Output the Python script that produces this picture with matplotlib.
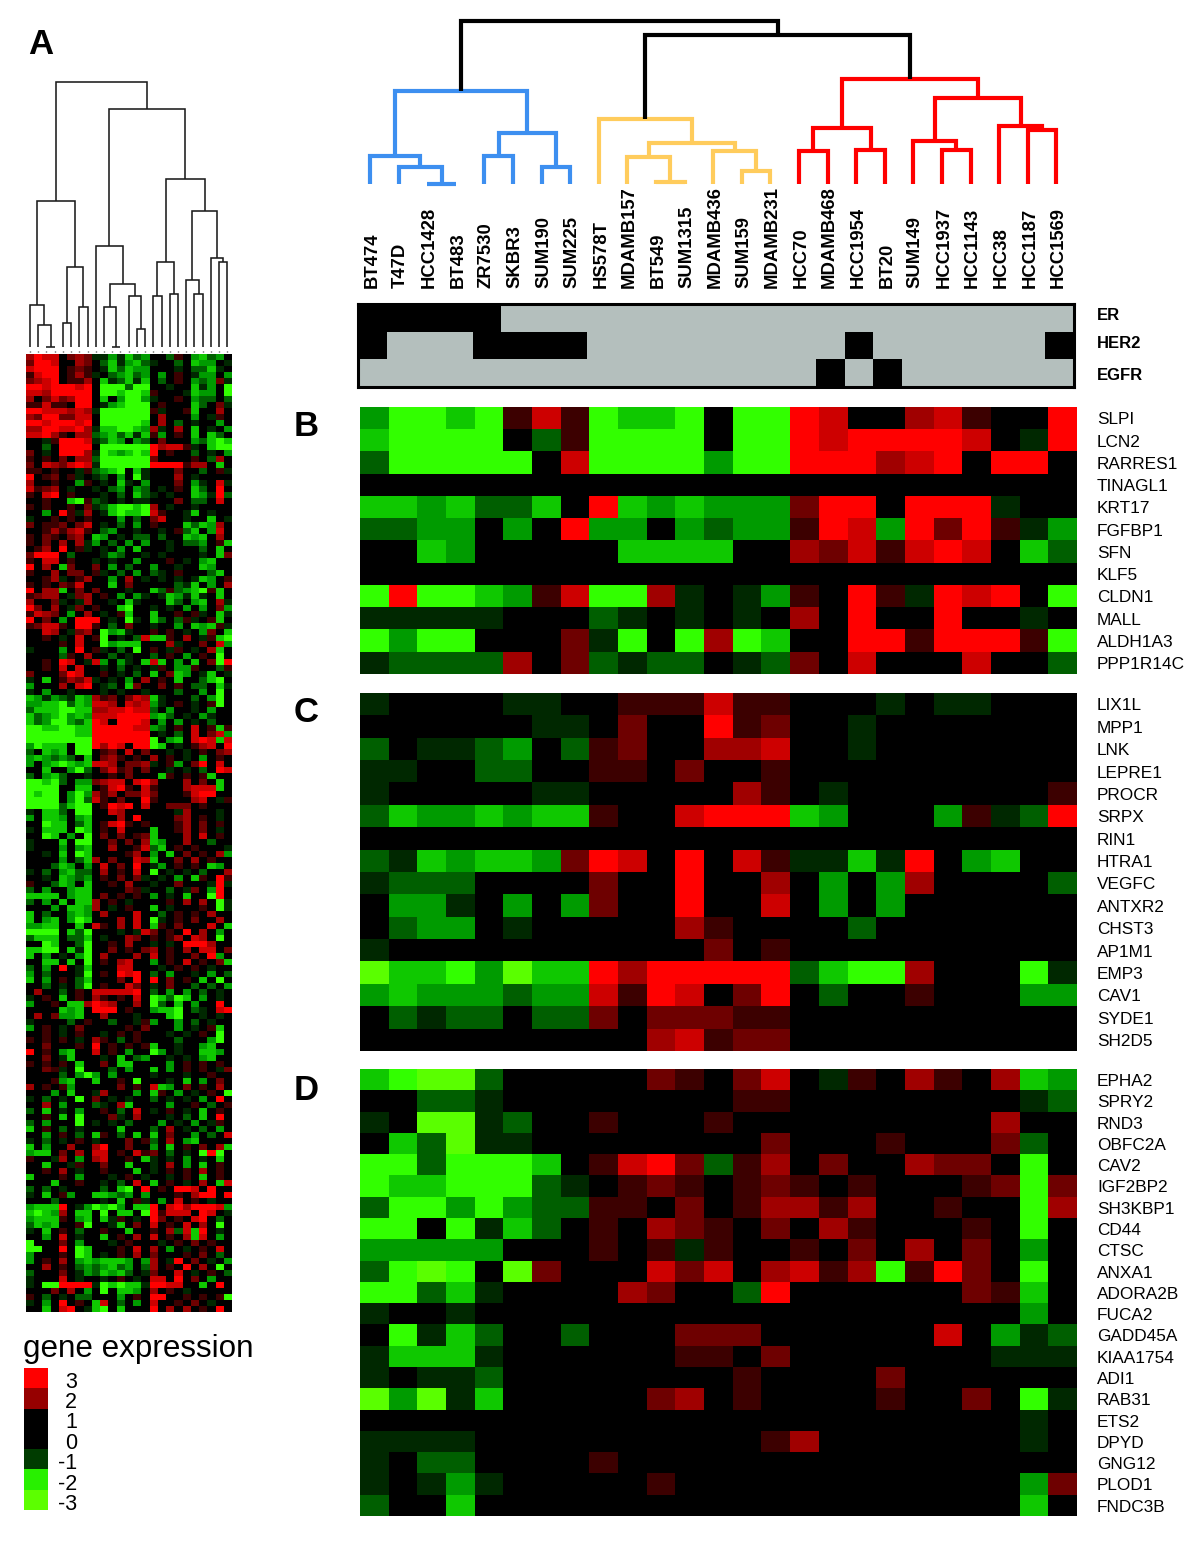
import matplotlib
matplotlib.use("Agg")
import matplotlib.pyplot as plt
import numpy as np
from matplotlib.colors import ListedColormap

plt.rcParams["font.family"] = ["Liberation Sans", "DejaVu Sans"]

W, H = 1200, 1563

cell_lines = ["BT474", "T47D", "HCC1428", "BT483", "ZR7530", "SKBR3", "SUM190", "SUM225", "HS578T",
              "MDAMB157", "BT549", "SUM1315", "MDAMB436", "SUM159", "MDAMB231", "HCC70", "MDAMB468",
              "HCC1954", "BT20", "SUM149", "HCC1937", "HCC1143", "HCC38", "HCC1187", "HCC1569"]

# 1 = positive, 0 = negative
markers = ["ER", "HER2", "EGFR"]
er = [1, 1, 1, 1, 1] + [0] * 20
her2 = [1, 0, 0, 0, 1, 1, 1, 1] + [0] * 9 + [1] + [0] * 6 + [1]
egfr = [0] * 16 + [1, 0, 1] + [0] * 6

# expression cells: . black, 1-5 dark to bright red, a-f dark to bright green
genes_b = ["SLPI", "LCN2", "RARRES1", "TINAGL1", "KRT17", "FGFBP1", "SFN", "KLF5", "CLDN1", "MALL",
           "ALDH1A3", "PPP1R14C"]
rows_b = ["ceede141edde.ee54..341..5",
          "deeee.b1eeee.ee5455554.a5",
          "beeeee.4eeeecee555345.55.",
          ".........................",
          "ddcdbbd.5dcdccc255.555a..",
          "bbcc.c.5cc.cbcc154c5251ac",
          "..dc.....dddd..3241454.db",
          ".........................",
          "e5eedc14ee3a.ac1.51a545.e",
          "aaaaa...ba.a.a.3.5..5..a.",
          "ecee...2ae.e3ed..5515551e",
          "abbbb3.2babb.ab2.4...4..b"]

genes_c = ["LIX1L", "MPP1", "LNK", "LEPRE1", "PROCR", "SRPX", "RIN1", "HTRA1", "VEGFC", "ANTXR2", "CHST3",
           "AP1M1", "EMP3", "CAV1", "SYDE1", "SH2D5"]
rows_c = ["a....aa..111411...a.aa...",
          "......aa.2..512..a.......",
          "b.aabc.b12..334..a.......",
          "aa..bb..11.2..1..........",
          "a.....aa.....31.a.......1",
          "bdccdcdd1..4555dc...c1ab5",
          ".........................",
          "badcddc254.5.41aada5.cd..",
          "abbb....2..5..3.c.c3....b",
          ".cca.c.c2..5..4.c.c......",
          ".bcc.a.....31....b.......",
          "a...........2.1..........",
          "fddecfdd5355555bdee3...ea",
          "cdcccbcc4154.25.b..1...cc",
          ".babb.bb2.22211..........",
          "..........34122.........."]

genes_d = ["EPHA2", "SPRY2", "RND3", "OBFC2A", "CAV2", "IGF2BP2", "SH3KBP1", "CD44", "CTSC", "ANXA1", "ADORA2B",
           "FUCA2", "GADD45A", "KIAA1754", "ADI1", "RAB31", "ETS2", "DPYD", "GNG12", "PLOD1", "FNDC3B"]
rows_d = ["deffb.....21.24.a1.31.3dc",
          "..bba........11........ab",
          "a.ffab..1...1.........3..",
          ".dbfaa........2...1...2b.",
          "eebeeed.1452b13.2..322.e.",
          "eddeeeba.121.121.1...12e2",
          "beececbb11.2.13313..1..e3",
          "ee.eadb.1.321.2.31...1.e.",
          "ccccc...1.1a1..1.2.3.2.c.",
          "befe.f2...424.3413e152.e.",
          "eebda....32..b5......21d.",
          "a..a...................c.",
          ".eadb..b...222......4.cab",
          "addda......11.2.......aaa",
          "a.aab........1....2......",
          "fcfad.....23.1....1..2.ea",
          ".......................a.",
          "aaaa..........13.......a.",
          "a.bb....1................",
          "a.aca.....1............c2",
          "b..d...................d."]

rows_a = ["3544.232aacadbc..b1.cdbc.", "2554..32.bdacdba..b.dcc.a", "4555.121.adbdcc...a.bbda.",
          "1455.131a.bcdbc.c.1.acc.c", "2345.113.dabdad.b.1.cbc2a", "55455545.eeebee..a..dac.e",
          "44355555.eedeed1...adcc.e", "3.242355.d.ceeca..1.cbb.b", "11411.55.acdeee.1...db.2a",
          "55444343aeeeeee1a..1d..3.", "32552244.eeeeee.3...c.a1.", "55455545.eeeeed.3.b.a..c.",
          "33554453addeedc3a.3.d.a.c", "44531.33bcdbdad1c.1.d.db.", "..a15554abdc.cb.2...cbded",
          "..b.5555.eeeeee53441a.dee", "2.a.5553aedcded5.1..b.a.c", "1.1.2.33beeeeee2....1.b3.",
          "2.432454aeeeeee5555133.d.", "11.1..a1bcde.da...2..b.1a", "5.12.1a.ab.c.ea...3.a....",
          "3..1..c1.a.da.c...2.ca.4a", "4123.a..a.bc.cb.a.1.db.5.", "1.45.1...a.b.dba.a..dca5b",
          "..1..de1ba.a.aa...2.bb.4.", "1.1..1.2abdeede3.a..a....", "..c.51a3.adedde41..ad.a..",
          "a..1.1.1...c.b.24..a..d.a", "2.112.24.a.b.c.1...dbdc3.", "..131341.bc..a..a.1bd.c4.",
          "1.21.23.dc.a.bb.b..dcd.3.", "1.2.3.3ac.b.c.c..a.bbc.1d", ".13.5.1a.a.c.d...a...b.d.",
          "2555.b...acb..a.a....a.d2", "1.44.1..a.a..c...1.a.cd..", "5.3.d2..2.c.b..c..a..dc..",
          "1..3.22.1a.b.c.ba.1...bd.", "..13a.13..c.3.a.a.a.adc.1", "1.1.214...d.2.....bad.c.3",
          "5.33d.2.2...a..db1bcde1d.", "1233.a23.1.c.ca.adcada.d.", "3..2a.a3..a.da...db.cd.3a",
          "52.3.a2.1..de..a.a.c.c.2c", "1432.c.3.a.1d..d..1.1a.da", "5.2.c.555.a.ea.db.b1a.1d.",
          "12441.551.b.2..a..c.dcd1a", "..43.a23.ecda..1.1.a.c2.d", "..1.a.4.1e.a.b4dd1.3.a1de",
          "....1.4..ecddd...3a..2.4c", "a...c.5.1a.b.e.1.a1.a.3d.", "....b1.3..b.a..b.1.c.1.e.",
          "..1.54.a4c.ca.d4d.c.d.2e5", "..1.4.4..a.b.a.a1.cc1..b1", "2...254..1.a.b.d.2dc.ad.a",
          # second block
          "a.d.1324a.a.c.3.1.d..bde.", "c...3.45.ab.d2..2.1.bb.da", "a.c..a...a.a..a...b..c.e.",
          "dcacbadc312.243da...b.ce.", "ccddebdc443.434ca.1.a.1e.", "bdddeedd3344544b.c..a.c..",
          "dbcdecdc4445555cdb.a.ca..", "dbceecbd54.5554.c.c.a.b..", "eeddeedd5555544cb.1.4.1d1",
          "eeeeeedd5555555.a.b.4.24c", "eeeeeeee5555555e.cd.454d4", "ceddd.ee5354.55ed.a.134.5",
          "b.dcd.ee.12.4.2..a.a.1.23", "cdcbcb.d.231.1.3.1.a.c.1.", "c.cdedcd443.223a.1c.25.4.",
          "..d..ceb.2412.2..a.a.b.54", "b.cdb..a..1.2...d1.1.1d..", "eedeb.cc2344.453...3.2.d.",
          "eeee..dd.1451.41...3444d.", "edee.cec313.2242...1455..", "eeee.ceb41.2..51....34.a1",
          "eeeebdee.1545.4..222.1...", "a.ddb.ee..43......a3...a.", "c.ddc.cd...3.5....23.1.a.",
          "..edd.bd.1451.1...13.2.1.", "a.ddd.ed.1.4...d..13.2.a.", "..ed.c.e.2.2.12d...3.4.1.",
          "a...d.ee..2.2.3dc..3..b..", "a...c.cd..3..14bd.1.1...a", "..a.d.ed....13.c.d.2.1.3c",
          "....c.bd3.2..43d..2.3.1..", "...bdc.c.4.2.5.ac.1.1.dc.", "a.b.cdbb.3.1.4.e.a.a.b..3",
          "..a.dcbc.1.2.2a.a.c.d1.51", "1..bdc.d..1.3..a..2...a5a", "b.c..cdd....21a..b.a2.c5.",
          "dddd.cdd.2.1.1.c.a.d..e5.", "b.c.d.dd3.1.a....1.3.3.ea", "...c.ddc3.a.1..d.a...1.ea",
          "d.b..cdc.3...4..b.1.1.3..", "d.cd.ced...3.4.ea.1.2..3.", "ccdd..d.41.3.4.d1.2...4.d",
          "eeee.dbe...a.a42.1.5.3.c.", "bddd.bbd.a..32.1.13.43.e.", "..ed..be..1.3..a.a.5553..",
          "ddee.dae..2.1.23.1.3.44.2", "d.c.a.ce.3...3.4.1..2.5c.", "..dd.d.e.1.34..c.1.4.1.2d",
          "b.c.5.ad...44...a.1.1.a..", "c.b...ae.1.545.b.c..a.c.b", "d.c.1.bd...2.5.5.2.1.d.e.",
          "..b.a.be.1..42.a.2..b.b.c", ".3..b.1.444445.b.c.c.b.a.", "a.1.d.1.31.1.4.edbed.c.a.",
          "c..1.dd3543..3.eb.d.c..5.",
          # third block
          "....dcd.555.1..cdde.ba.45", ".3.2ccd..3...a...de..a.a.", "a....b.1..b..a1c..c.b.a..",
          "c.1.a.2.....1.2...c.a.1d.", "..1.a.1..a.1.1...a.a.1.e.", "1.1.1.a.31.b.1....b...ce.",
          "..2...1.5.1.1.1d..a..cd..", "5.1.cd..4.1.c..ec.a..ddc.", "..2.ad...a.d.bc..a.a.cd..",
          "1.1.1.d..2.dd....c.1.1.1.", "..21a.e...b.c..d.c.1.1.a2", "....b.cec.c....a...a..1..",
          "...1cd..d..1.e...a.d.c.2.", "3.1.1c.....2.1.4dc.2.1.3.e", "...c.d..a3...c.d1.c.a.1.e",
          "a.b.a.e.2.a.a..b.a.a.c.5.", "..3.c...ba.3d....c..1.b.1", "b.d.a.c..1.b.4.a.1.a.d.1.",
          "..1.d.e...2a.3...a.b.d.5.", "b.c...e.a.a.b...c.a.c.a1.", "d.1.b.a....d...b.3.a.b.c.",
          "..c.1.b.d1.b.d.d.2..c.b.4", "a.b.a.1.a...2.1b.3.cd....", "d.c..3..35..2..c.d.1.2.3d",
          "cdd.2.3.44.1.412.b.a.e5e.", "1..a3.c.34..1.da.a.c.a.d.", "..d..a1..2..d..a.3.c.d.1.",
          "..1.3.a..1...d.a.1.1.3.1.", "d...1.c...a.1.a..a.1.d.1.3", "...d..1..a.b.4.d.1.a.3.d4",
          "b.b.a....b.de.5.1.554.5..", "a.d.1c..ddcbc.c...1.355.5", "...b.....a.d.1a.c.4.1.a..",
          "cddd5.acedec.dd5.4535554c", "dedc3.dd.e.dd.e51444.54.a", "cddd1.cd.da1.a.52.1.45.b.",
          "bdcd..1e..ad.2.4.1.4.3.e.", "a.d.1.b..1..d..1.3b4d5.a.", "..c.4.a..d.1.3.4.1.3d4.c.",
          "e...2.c...a.1...a.1.2.1..", "ee..5.ed...1.4.3.c.a.1.4.", "c...1.ed.a.1.3.2...1.2.b.",
          "c.1.3.cdcdddc.c3.a5.2.a.c", "..3.1.bcbcdbc.b3.1.5.3.e.", "b...2.acbdcdb.a2..4.a.1.b",
          "a...4.a..a.1.a.44.5.2.c..", "a.ee5555aededda5544..d.5.", "...2.3.c.e.ddc.3.1.a.....",
          "1.b.a.bb...c.1.55..1.1.1e", "a.c.5.1.d4.b.c.4..1.2.a..", "..d.45.ade.d...5.3.3.1.5."]

# dendrograms: (distance, left, right), integers are leaves
tree_a = (265, (146, (42, 0, (22, 1, (0, 2, 3))), (80, (24, 4, 5), (40, 6, 7))),
          (238, (101, 8, (63, (40, 9, (0, 10, 11)), (51, 12, (18, 13, 14)))),
           (168, (85, (51, 15, 16), (53, 17, 18)), (136, (67, 19, (53, 20, 21)), (89, 22, (85, 23, 24))))))
tree_blue = (93, (28, 0, (17, 1, (0, 2, 3))), (51, (28, 4, 5), (17, 6, 7)))
tree_yellow = (65, 8, (41, (27, 9, (2, 10, 11)), (33, 12, (13, 13, 14))))
tree_red = (105, (56, (33, 15, 16), (34, 17, 18)), (86, (43, 19, (34, 20, 21)), (58, 22, (54, 23, 24))))
root_right = 149
root_top = 163

legend_values = [3, 2, 1, 0, -1, -2, -3]
legend_colors = ["#ff0000", "#960000", "#000000", "#000000", "#003c00", "#28f000", "#5cff00"]

LEVELS = "fedcba.12345"
cell_colors = ["#5aff00", "#32ff00", "#0fc800", "#009b00", "#005f00", "#002800", "#000000",
               "#3c0000", "#6e0000", "#a00000", "#cd0000", "#ff0000"]
cell_cmap = ListedColormap(cell_colors)


def to_matrix(rows):
    return np.array([[LEVELS.index(c) for c in r.ljust(25, ".")[:25]] for r in rows])


def px_axes(fig, x0, y0, x1, y1):
    return fig.add_axes([x0 / W, 1 - y1 / H, (x1 - x0) / W, (y1 - y0) / H])


def heat(fig, rows, box):
    ax = px_axes(fig, *box)
    ax.imshow(to_matrix(rows), cmap=cell_cmap, vmin=-0.5, vmax=11.5, aspect="auto", interpolation="nearest")
    ax.axis("off")
    return ax


def link(ax, a, b, h, color, lw):
    ax.plot([a[0], a[0], b[0], b[0]], [a[1], h, h, b[1]], color=color, lw=lw,
            solid_joinstyle="miter", solid_capstyle="butt", clip_on=False)
    return (a[0] + b[0]) / 2, h


def draw_tree(ax, node, color, lw):
    if isinstance(node, int):
        return node, 0
    h, left, right = node
    return link(ax, draw_tree(ax, left, color, lw), draw_tree(ax, right, color, lw), h, color, lw)


fig = plt.figure(figsize=(W / 100, H / 100), dpi=100, facecolor="white")
page = fig.add_axes([0, 0, 1, 1], zorder=5)
page.set_xlim(0, W)
page.set_ylim(H, 0)
page.axis("off")

# panel A
ax = px_axes(fig, 26, 82, 232, 347)
ax.set_xlim(-0.49, 24.57)
ax.set_ylim(0, 265)
ax.axis("off")
draw_tree(ax, tree_a, "#1c1c1c", 1.15)
ax.vlines(range(25), -5, -3.5, color="#333333", lw=1, clip_on=False)
heat(fig, rows_a, (26, 354, 232, 1312))

# top dendrogram
ax = px_axes(fig, 360, 21, 1077, 184)
ax.set_xlim(-0.35, 24.72)
ax.set_ylim(0, 163)
ax.axis("off")
blue = draw_tree(ax, tree_blue, "#3d8ff0", 3)
yellow = draw_tree(ax, tree_yellow, "#ffcc5c", 3)
red = draw_tree(ax, tree_red, "#ff0000", 3)
right = link(ax, yellow, red, root_right, "black", 3)
link(ax, blue, right, root_top, "black", 3)
for i, name in enumerate(cell_lines):
    page.text(372 + 28.6 * i, 288, name, rotation=90, ha="center", va="bottom", fontsize=13.3, fontweight="bold")

# receptor status
ax = px_axes(fig, 358, 304, 1074, 387)
ax.imshow(np.array([er, her2, egfr]), cmap=ListedColormap(["#b4bfbd", "#000000"]), aspect="auto",
          interpolation="nearest")
ax.set_xticks([])
ax.set_yticks([])
for s in ax.spines.values():
    s.set_linewidth(2.2)
for name, y in zip(markers, [315, 343, 375]):
    page.text(1097, y, name, ha="left", va="center", fontsize=12, fontweight="bold")

# panels B, C, D
panels = [("B", genes_b, rows_b, 407, 674, 426), ("C", genes_c, rows_c, 693, 1051, 712),
          ("D", genes_d, rows_d, 1069, 1516, 1090)]
for letter, genes, rows, top, bottom, letter_y in panels:
    heat(fig, rows, (360, top, 1077, bottom))
    page.text(306, letter_y, letter, ha="center", va="center", fontsize=25, fontweight="bold")
    step = (bottom - top) / len(genes)
    for i, gene in enumerate(genes):
        page.text(1097, top + step * (i + 0.5) + 1.8, gene, ha="left", va="center", fontsize=12.4)

page.text(41, 44, "A", ha="center", va="center", fontsize=25, fontweight="bold")

# legend
page.text(23, 1349, "gene expression", ha="left", va="center", fontsize=22.6)
ax = px_axes(fig, 24, 1368, 48, 1510)
ax.imshow(np.arange(len(legend_values)).reshape(-1, 1), cmap=ListedColormap(legend_colors), aspect="auto",
          interpolation="nearest")
ax.axis("off")
for i, v in enumerate(legend_values):
    page.text(77, 1382 + 20.4 * i, str(v), ha="right", va="center", fontsize=15.5)

fig.savefig("out.png", dpi=100)
plt.close()
